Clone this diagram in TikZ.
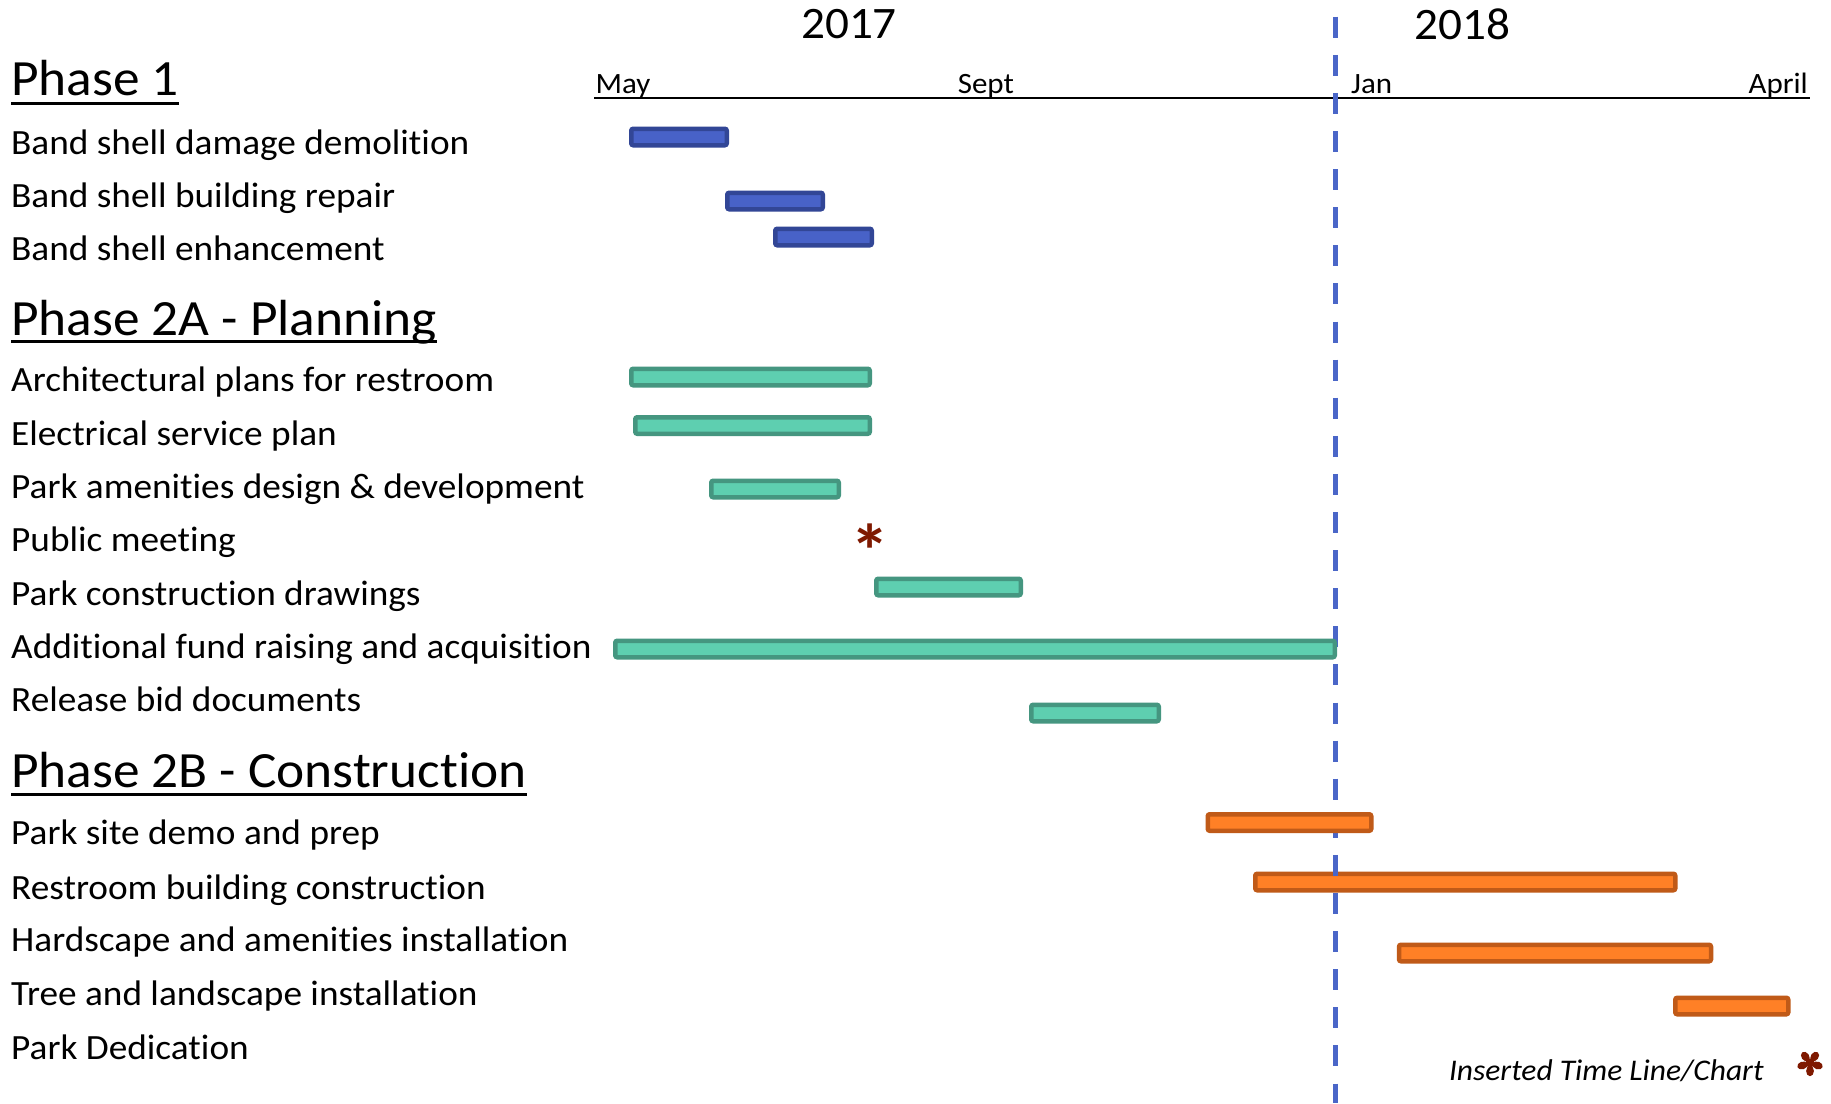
\documentclass[tikz,border=0pt]{standalone}
\usepackage{fontspec}
\setmainfont{Carlito}[FakeStretch=1.05, Ligatures=NoCommon]
\definecolor{bluefill}{RGB}{72,98,200}
\definecolor{blueedge}{RGB}{50,70,150}
\definecolor{tealfill}{RGB}{94,207,176}
\definecolor{tealedge}{RGB}{69,150,128}
\definecolor{orfill}{RGB}{255,128,38}
\definecolor{oredge}{RGB}{192,90,24}
\definecolor{dashblue}{RGB}{74,102,200}
\definecolor{astred}{RGB}{127,25,0}
\newcommand\astglyph{\raisebox{-42.5pt}[0pt][0pt]{*}}
\begin{document}
\begin{tikzpicture}[x=1pt,y=-1pt,
  lbl/.style={anchor=base west, inner sep=0, font=\fontsize{35.5}{40}\selectfont},
  head/.style={anchor=base west, inner sep=0, font=\fontsize{50.8}{56}\selectfont},
  mon/.style={anchor=base west, inner sep=0, font=\fontsize{29.5}{34}\selectfont},
  yr/.style={anchor=base, inner sep=0, font=\fontsize{45}{50}\selectfont},
  uline/.style={line width=3.5pt},
  gbar/.style={draw, rounded corners=2pt, line width=4.5pt, minimum height=16.5pt, inner sep=0},
  bluebar/.style={gbar, draw=blueedge, fill=bluefill},
  tealbar/.style={gbar, draw=tealedge, fill=tealfill},
  orbar/.style={gbar, draw=oredge, fill=orfill},
  ast/.style={anchor=base, inner sep=0, text=astred, font=\fontsize{75}{75}\selectfont\bfseries},
  dline/.style={draw=dashblue, line width=5pt, dash pattern=on 21pt off 17.1pt}]
\useasboundingbox (0,0) rectangle (1831,1103);
\fill[white] (0,0) rectangle (1831,1103);

% years and month axis
\node[yr] (y17) at (849,38.5) {2017};
\node[yr] (y18) at (1462.6,39) {2018};
\node[mon] (may) at (595.5,93) {May};
\node[mon] (sep) at (957.6,93) {Sept};
\node[mon] (jan) at (1351,93) {Jan};
\node[mon, anchor=base east] (apr) at (1808,93) {April};
\coordinate (ax0) at (594,98);
\coordinate (ax1) at (1810,98);
\draw[line width=2.7pt] (ax0) -- (ax1);

% headings
\node[head] (h1) at (11,95) {Phase 1};
\node[head] (h2a) at (11,335) {Phase 2A - Planning};
\node[head] (h2b) at (11,787.3) {Phase 2B - Construction};
\foreach \h/\d in {h1/8.5,h2a/6.5,h2b/7.4}
  \draw[uline] ([yshift=-\d pt]\h.base west) -- ([yshift=-\d pt]\h.base east);

% task labels
\node[lbl] (t1) at (11,154) {Band shell damage demolition};
\node[lbl] (t2) at (11,207) {Band shell building repair};
\node[lbl] (t3) at (11,260) {Band shell enhancement};
\node[lbl] (t4) at (11,391.7) {Architectural plans for restroom};
\node[lbl] (t5) at (11,445) {Electrical service plan};
\node[lbl] (t6) at (11,498.3) {Park amenities design \& development};
\node[lbl] (t7) at (11,551.7) {Public meeting};
\node[lbl] (t8) at (11,605) {Park construction drawings};
\node[lbl] (t9) at (11,658.3) {Additional fund raising and acquisition};
\node[lbl] (t10) at (11,711.7) {Release bid documents};
\node[lbl] (t11) at (11,844) {Park site demo and prep};
\node[lbl] (t12) at (11,899) {Restroom building construction};
\node[lbl] (t13) at (11,951.7) {Hardscape and amenities installation};
\node[lbl] (t14) at (11,1005) {Tree and landscape installation};
\node[lbl] (t15) at (11,1059.3) {Park Dedication};

% bar drawn beneath the dashed line
\node[orbar, minimum width=420pt] (b12) at (1465.25,882) {};

% dashed Jan 2018 line
\coordinate (dtop) at (1335,16.7);
\coordinate (dbot) at (1335,1103);
\draw[dline] (dtop) -- (dbot);

% bars
\node[bluebar, minimum width=95.5pt] (b1) at (679,137) {};
\node[bluebar, minimum width=95.5pt] (b2) at (775,201) {};
\node[bluebar, minimum width=96.5pt] (b3) at (823.5,237) {};
\node[tealbar, minimum width=238.5pt] (b4) at (750.5,377) {};
\node[tealbar, minimum width=234.5pt] (b5) at (752.5,425.5) {};
\node[tealbar, minimum width=127.5pt] (b6) at (775,489) {};
\node[tealbar, minimum width=144.5pt] (b8) at (948.5,587) {};
\node[tealbar, minimum width=719.5pt] (b9) at (975,649) {};
\node[tealbar, minimum width=127.5pt] (b10) at (1095,713) {};
\node[orbar, minimum width=163.5pt] (b11) at (1289.5,822.5) {};
\node[orbar, minimum width=312pt] (b13) at (1555,953) {};
\node[orbar, minimum width=113pt] (b14) at (1731.75,1006) {};

% milestones
\node[ast] (m7) at (870,534.5) {\astglyph};
% legend marker (drawn, at the picture's edge)
\begin{scope}[shift={(1810,1063)}, yscale=-1]
  \fill[astred] (0,0) circle (4.6);
  \foreach \a in {90,18,-54,-126,162}
    \fill[astred, rotate=\a] (8,0) ellipse (5.2 and 3.9);
\end{scope}
\node[anchor=base west, inner sep=0, font=\fontsize{30}{34}\selectfont\itshape] (note) at (1448.8,1080) {Inserted Time Line/Chart};
\end{tikzpicture}
\end{document}
